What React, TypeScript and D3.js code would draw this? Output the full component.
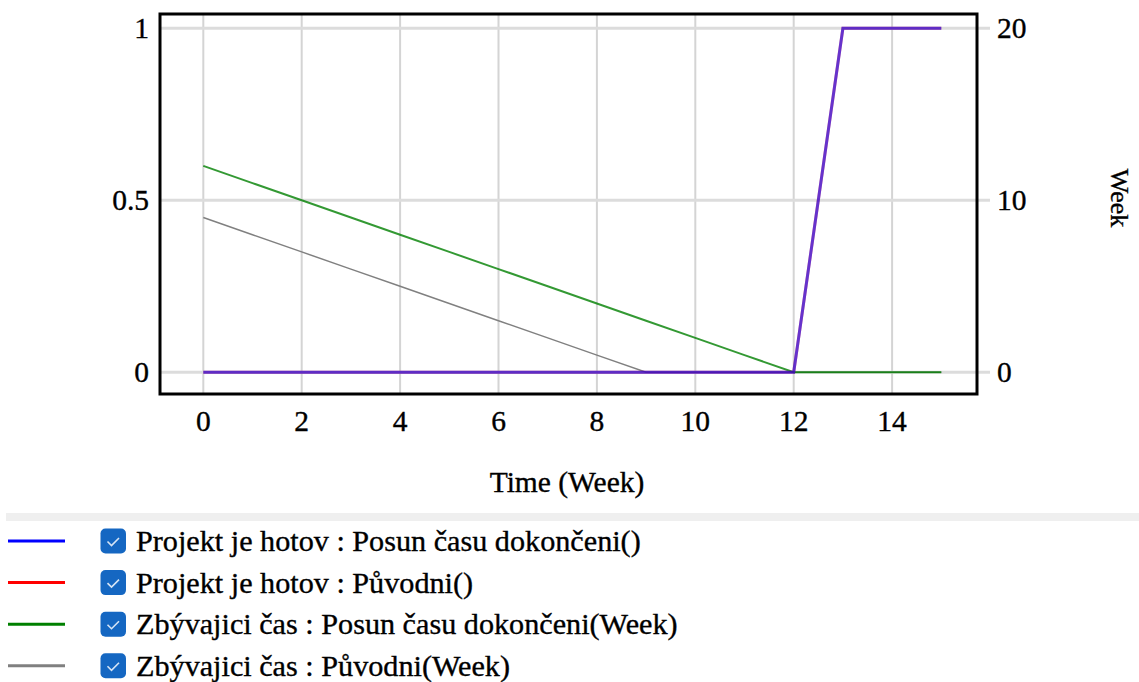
import React from 'react';
import * as d3 from 'd3';

// weeks 0..15
const weeks = [0, 1, 2, 3, 4, 5, 6, 7, 8, 9, 10, 11, 12, 13, 14, 15];
const hotovPosun = [0, 0, 0, 0, 0, 0, 0, 0, 0, 0, 0, 0, 0, 1, 1, 1];
const hotovPuvodni = [0, 0, 0, 0, 0, 0, 0, 0, 0, 0, 0, 0, 0, 1, 1, 1];
const zbyvaPosun = [12, 11, 10, 9, 8, 7, 6, 5, 4, 3, 2, 1, 0, 0, 0, 0];
const zbyvaPuvodni = [9, 8, 7, 6, 5, 4, 3, 2, 1, 0, 0, 0, 0, 0, 0, 0];

const xTicks = [0, 2, 4, 6, 8, 10, 12, 14];
const leftTicks = [0, 0.5, 1];
const rightTicks = [0, 10, 20];

const legendItems = [
  { label: 'Projekt je hotov : Posun času dokončeni()', color: '#0000ff' },
  { label: 'Projekt je hotov : Původni()', color: '#ff0000' },
  { label: 'Zbývajici čas : Posun času dokončeni(Week)', color: '#008000' },
  { label: 'Zbývajici čas : Původni(Week)', color: '#808080' },
];

const font = "'Liberation Serif', 'Times New Roman', serif";

export default function App() {
  const box = { left: 160, top: 14, right: 977, bottom: 394 };

  const x = d3.scaleLinear().domain([0, 15]).range([203.3, 941.3]);
  const yL = d3.scaleLinear().domain([0, 1]).range([372.3, 28.3]);
  const yR = d3.scaleLinear().domain([0, 20]).range([372.3, 28.3]);

  const lineL = (vals: number[]) =>
    d3.line<number>().x((d, i) => x(weeks[i])).y(d => yL(d))(vals) || '';
  const lineR = (vals: number[]) =>
    d3.line<number>().x((d, i) => x(weeks[i])).y(d => yR(d))(vals) || '';

  const txt = { fontFamily: font, fontSize: 29.5, stroke: '#000', strokeWidth: 0.35 } as React.CSSProperties;
  const legTxt = { ...txt, fontSize: 30.2 } as React.CSSProperties;

  return (
    <svg width={1139} height={682} style={{ position: 'absolute', left: 0, top: 0 }}>
      <rect width={1139} height={682} fill="#fff" />

      {/* grid */}
      {xTicks.map(t => (
        <line key={'vx' + t} x1={x(t)} x2={x(t)} y1={box.top} y2={box.bottom}
              stroke="#d4d4d4" strokeWidth={2} />
      ))}
      {leftTicks.map(t => (
        <line key={'hy' + t} x1={box.left} x2={990} y1={yL(t)} y2={yL(t)}
              stroke="#dcdcdc" strokeWidth={3} />
      ))}

      {/* series */}
      <path d={lineR(zbyvaPuvodni)} fill="none" stroke="#808080" strokeWidth={1.5} />
      <path d={lineR(zbyvaPosun)} fill="none" stroke="#008000" strokeWidth={2} strokeOpacity={0.8} />
      <path d={lineL(hotovPuvodni)} fill="none" stroke="#ff0000" strokeWidth={3} strokeOpacity={0.5} />
      <path d={lineL(hotovPosun)} fill="none" stroke="#0000ff" strokeWidth={3} strokeOpacity={0.6} />

      {/* border */}
      <rect x={box.left} y={box.top} width={box.right - box.left} height={box.bottom - box.top}
            fill="none" stroke="#000" strokeWidth={3} />

      {/* axes labels */}
      {xTicks.map(t => (
        <text key={'xl' + t} x={x(t)} y={421} textAnchor="middle" dominantBaseline="central"
              style={txt}>{t}</text>
      ))}
      {leftTicks.map(t => (
        <text key={'ll' + t} x={149} y={yL(t)} textAnchor="end" dominantBaseline="central"
              style={txt}>{t}</text>
      ))}
      {rightTicks.map(t => (
        <text key={'rl' + t} x={997} y={yR(t)} textAnchor="start" dominantBaseline="central"
              style={txt}>{t}</text>
      ))}
      <text x={567} y={482} textAnchor="middle" dominantBaseline="central" style={txt}>
        Time (Week)
      </text>
      <text transform="translate(1119,198) rotate(90)" textAnchor="middle" dominantBaseline="central"
            style={{ ...txt, fontSize: 26 }}>Week</text>

      {/* legend */}
      <rect x={6} y={513} width={1133} height={8} fill="#efefef" />
      {legendItems.map((it, i) => {
        const cy = 541 + i * 41.6;
        return (
          <g key={it.label}>
            <line x1={8} x2={65} y1={cy} y2={cy} stroke={it.color} strokeWidth={3} />
            <rect x={100.5} y={cy - 12.5} width={25.5} height={25} rx={5} fill="#1567c2" />
            <path d={`M${107.5},${cy + 0.5} l4,4 l7.5,-7.5`} fill="none" stroke="#d6e4f5"
                  strokeWidth={1.6} />
            <text x={136} y={cy} dominantBaseline="central" style={legTxt}>{it.label}</text>
          </g>
        );
      })}
    </svg>
  );
}
